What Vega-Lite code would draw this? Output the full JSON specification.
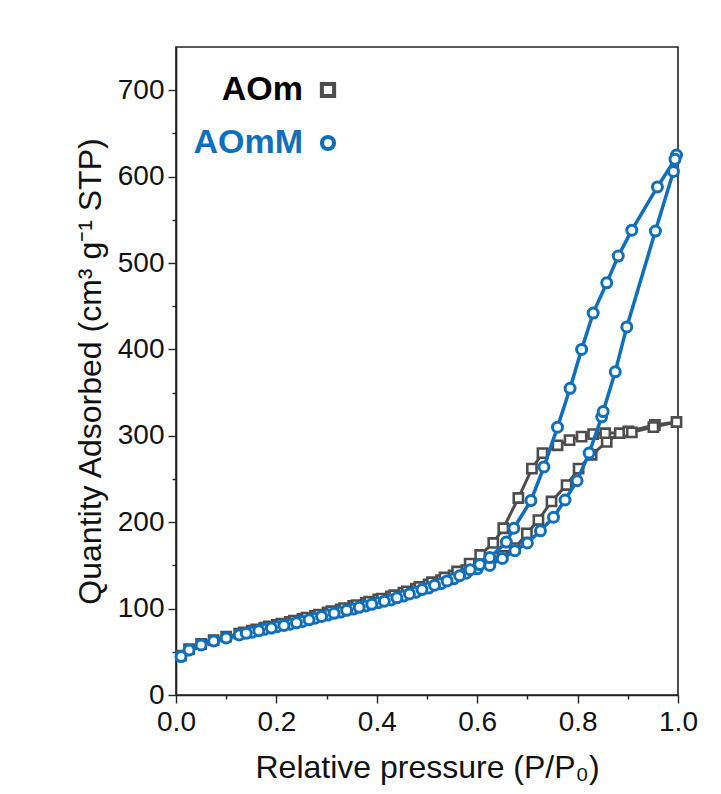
{
  "$schema": "https://vega.github.io/schema/vega-lite/v6.json",
  "width": 502,
  "height": 648,
  "autosize": {"type": "none"},
  "padding": {"left": 176, "top": 47, "right": 43, "bottom": 99},
  "background": "white",
  "config": {
    "font": "Liberation Sans",
    "view": {"stroke": "#222", "strokeWidth": 1.6},
    "axis": {"domainColor": "#222", "domainWidth": 1.6, "tickColor": "#222", "tickWidth": 1.4, "labelFontSize": 28, "labelColor": "#111", "titleFontSize": 32, "titleFontWeight": "normal", "titleColor": "#111", "grid": false}
  },
  "datasets": {
    "iso": [
      {"s": "AOm", "i": 1, "p": 0.010, "q": 45.5},
      {"s": "AOm", "i": 2, "p": 0.026, "q": 53},
      {"s": "AOm", "i": 3, "p": 0.050, "q": 59},
      {"s": "AOm", "i": 4, "p": 0.075, "q": 63.5},
      {"s": "AOm", "i": 5, "p": 0.100, "q": 67.5},
      {"s": "AOm", "i": 6, "p": 0.126, "q": 71},
      {"s": "AOm", "i": 7, "p": 0.151, "q": 74.5},
      {"s": "AOm", "i": 8, "p": 0.176, "q": 78},
      {"s": "AOm", "i": 9, "p": 0.201, "q": 81},
      {"s": "AOm", "i": 10, "p": 0.227, "q": 84.5},
      {"s": "AOm", "i": 11, "p": 0.252, "q": 88},
      {"s": "AOm", "i": 12, "p": 0.277, "q": 91.5},
      {"s": "AOm", "i": 13, "p": 0.302, "q": 95.5},
      {"s": "AOm", "i": 14, "p": 0.328, "q": 99},
      {"s": "AOm", "i": 15, "p": 0.353, "q": 103},
      {"s": "AOm", "i": 16, "p": 0.378, "q": 106.5},
      {"s": "AOm", "i": 17, "p": 0.403, "q": 110.5},
      {"s": "AOm", "i": 18, "p": 0.428, "q": 114},
      {"s": "AOm", "i": 19, "p": 0.453, "q": 118.5},
      {"s": "AOm", "i": 20, "p": 0.478, "q": 123},
      {"s": "AOm", "i": 21, "p": 0.503, "q": 128},
      {"s": "AOm", "i": 22, "p": 0.528, "q": 133},
      {"s": "AOm", "i": 23, "p": 0.553, "q": 138.5},
      {"s": "AOm", "i": 24, "p": 0.578, "q": 144.5},
      {"s": "AOm", "i": 25, "p": 0.600, "q": 149},
      {"s": "AOm", "i": 26, "p": 0.625, "q": 154},
      {"s": "AOm", "i": 27, "p": 0.650, "q": 161},
      {"s": "AOm", "i": 28, "p": 0.675, "q": 170},
      {"s": "AOm", "i": 29, "p": 0.699, "q": 187},
      {"s": "AOm", "i": 30, "p": 0.722, "q": 202.5},
      {"s": "AOm", "i": 31, "p": 0.748, "q": 224},
      {"s": "AOm", "i": 32, "p": 0.778, "q": 243},
      {"s": "AOm", "i": 33, "p": 0.802, "q": 262},
      {"s": "AOm", "i": 34, "p": 0.828, "q": 278},
      {"s": "AOm", "i": 35, "p": 0.858, "q": 293},
      {"s": "AOm", "i": 36, "p": 0.884, "q": 303},
      {"s": "AOm", "i": 37, "p": 0.901, "q": 305},
      {"s": "AOm", "i": 38, "p": 0.954, "q": 312.5},
      {"s": "AOm", "i": 39, "p": 0.997, "q": 316},
      {"s": "AOm", "i": 40, "p": 0.951, "q": 310},
      {"s": "AOm", "i": 41, "p": 0.908, "q": 304},
      {"s": "AOm", "i": 42, "p": 0.855, "q": 303},
      {"s": "AOm", "i": 43, "p": 0.831, "q": 302},
      {"s": "AOm", "i": 44, "p": 0.808, "q": 299},
      {"s": "AOm", "i": 45, "p": 0.784, "q": 295},
      {"s": "AOm", "i": 46, "p": 0.760, "q": 289},
      {"s": "AOm", "i": 47, "p": 0.730, "q": 280},
      {"s": "AOm", "i": 48, "p": 0.709, "q": 262},
      {"s": "AOm", "i": 49, "p": 0.682, "q": 228},
      {"s": "AOm", "i": 50, "p": 0.652, "q": 193},
      {"s": "AOm", "i": 51, "p": 0.632, "q": 176},
      {"s": "AOm", "i": 52, "p": 0.606, "q": 162},
      {"s": "AOm", "i": 53, "p": 0.585, "q": 152},
      {"s": "AOm", "i": 54, "p": 0.560, "q": 143},
      {"s": "AOm", "i": 55, "p": 0.535, "q": 136},
      {"s": "AOm", "i": 56, "p": 0.510, "q": 130.5},
      {"s": "AOm", "i": 57, "p": 0.485, "q": 125},
      {"s": "AOm", "i": 58, "p": 0.460, "q": 120},
      {"s": "AOm", "i": 59, "p": 0.435, "q": 115.5},
      {"s": "AOm", "i": 60, "p": 0.410, "q": 111.5},
      {"s": "AOm", "i": 61, "p": 0.385, "q": 108},
      {"s": "AOm", "i": 62, "p": 0.360, "q": 104},
      {"s": "AOm", "i": 63, "p": 0.335, "q": 100.5},
      {"s": "AOm", "i": 64, "p": 0.310, "q": 97},
      {"s": "AOm", "i": 65, "p": 0.285, "q": 93},
      {"s": "AOm", "i": 66, "p": 0.260, "q": 89.5},
      {"s": "AOm", "i": 67, "p": 0.235, "q": 86},
      {"s": "AOm", "i": 68, "p": 0.210, "q": 82.5},
      {"s": "AOm", "i": 69, "p": 0.185, "q": 79.5},
      {"s": "AOm", "i": 70, "p": 0.160, "q": 76},
      {"s": "AOm", "i": 71, "p": 0.135, "q": 72.5},
      {"s": "AOmM", "i": 1, "p": 0.010, "q": 44.5},
      {"s": "AOmM", "i": 2, "p": 0.026, "q": 52},
      {"s": "AOmM", "i": 3, "p": 0.050, "q": 58},
      {"s": "AOmM", "i": 4, "p": 0.075, "q": 62.5},
      {"s": "AOmM", "i": 5, "p": 0.100, "q": 66},
      {"s": "AOmM", "i": 6, "p": 0.126, "q": 69.5},
      {"s": "AOmM", "i": 7, "p": 0.151, "q": 72.7},
      {"s": "AOmM", "i": 8, "p": 0.176, "q": 76},
      {"s": "AOmM", "i": 9, "p": 0.201, "q": 79},
      {"s": "AOmM", "i": 10, "p": 0.227, "q": 82},
      {"s": "AOmM", "i": 11, "p": 0.252, "q": 85.2},
      {"s": "AOmM", "i": 12, "p": 0.277, "q": 88.8},
      {"s": "AOmM", "i": 13, "p": 0.302, "q": 92.5},
      {"s": "AOmM", "i": 14, "p": 0.328, "q": 96},
      {"s": "AOmM", "i": 15, "p": 0.353, "q": 99.5},
      {"s": "AOmM", "i": 16, "p": 0.378, "q": 103},
      {"s": "AOmM", "i": 17, "p": 0.403, "q": 106.8},
      {"s": "AOmM", "i": 18, "p": 0.428, "q": 110},
      {"s": "AOmM", "i": 19, "p": 0.453, "q": 114.5},
      {"s": "AOmM", "i": 20, "p": 0.478, "q": 119},
      {"s": "AOmM", "i": 21, "p": 0.503, "q": 123.8},
      {"s": "AOmM", "i": 22, "p": 0.528, "q": 129},
      {"s": "AOmM", "i": 23, "p": 0.553, "q": 134.5},
      {"s": "AOmM", "i": 24, "p": 0.578, "q": 141},
      {"s": "AOmM", "i": 25, "p": 0.600, "q": 146},
      {"s": "AOmM", "i": 26, "p": 0.625, "q": 150},
      {"s": "AOmM", "i": 27, "p": 0.650, "q": 158},
      {"s": "AOmM", "i": 28, "p": 0.675, "q": 167},
      {"s": "AOmM", "i": 29, "p": 0.700, "q": 176},
      {"s": "AOmM", "i": 30, "p": 0.726, "q": 190},
      {"s": "AOmM", "i": 31, "p": 0.752, "q": 205.7},
      {"s": "AOmM", "i": 32, "p": 0.775, "q": 225.7},
      {"s": "AOmM", "i": 33, "p": 0.799, "q": 248},
      {"s": "AOmM", "i": 34, "p": 0.823, "q": 280},
      {"s": "AOmM", "i": 35, "p": 0.848, "q": 322},
      {"s": "AOmM", "i": 36, "p": 0.851, "q": 328},
      {"s": "AOmM", "i": 37, "p": 0.875, "q": 374},
      {"s": "AOmM", "i": 38, "p": 0.898, "q": 426},
      {"s": "AOmM", "i": 39, "p": 0.955, "q": 537},
      {"s": "AOmM", "i": 40, "p": 0.991, "q": 606},
      {"s": "AOmM", "i": 41, "p": 0.997, "q": 625},
      {"s": "AOmM", "i": 42, "p": 0.994, "q": 620},
      {"s": "AOmM", "i": 43, "p": 0.959, "q": 588},
      {"s": "AOmM", "i": 44, "p": 0.908, "q": 538},
      {"s": "AOmM", "i": 45, "p": 0.881, "q": 508},
      {"s": "AOmM", "i": 46, "p": 0.858, "q": 477},
      {"s": "AOmM", "i": 47, "p": 0.831, "q": 442},
      {"s": "AOmM", "i": 48, "p": 0.808, "q": 400},
      {"s": "AOmM", "i": 49, "p": 0.785, "q": 355},
      {"s": "AOmM", "i": 50, "p": 0.760, "q": 310},
      {"s": "AOmM", "i": 51, "p": 0.733, "q": 264},
      {"s": "AOmM", "i": 52, "p": 0.707, "q": 225},
      {"s": "AOmM", "i": 53, "p": 0.673, "q": 193},
      {"s": "AOmM", "i": 54, "p": 0.658, "q": 177},
      {"s": "AOmM", "i": 55, "p": 0.625, "q": 159},
      {"s": "AOmM", "i": 56, "p": 0.605, "q": 151},
      {"s": "AOmM", "i": 57, "p": 0.586, "q": 145},
      {"s": "AOmM", "i": 58, "p": 0.565, "q": 138},
      {"s": "AOmM", "i": 59, "p": 0.540, "q": 132},
      {"s": "AOmM", "i": 60, "p": 0.515, "q": 127},
      {"s": "AOmM", "i": 61, "p": 0.490, "q": 122},
      {"s": "AOmM", "i": 62, "p": 0.465, "q": 117},
      {"s": "AOmM", "i": 63, "p": 0.440, "q": 112.5},
      {"s": "AOmM", "i": 64, "p": 0.415, "q": 108.5},
      {"s": "AOmM", "i": 65, "p": 0.390, "q": 105},
      {"s": "AOmM", "i": 66, "p": 0.365, "q": 101.5},
      {"s": "AOmM", "i": 67, "p": 0.340, "q": 98},
      {"s": "AOmM", "i": 68, "p": 0.315, "q": 94.5},
      {"s": "AOmM", "i": 69, "p": 0.290, "q": 91},
      {"s": "AOmM", "i": 70, "p": 0.265, "q": 87},
      {"s": "AOmM", "i": 71, "p": 0.240, "q": 83.5},
      {"s": "AOmM", "i": 72, "p": 0.215, "q": 80.5},
      {"s": "AOmM", "i": 73, "p": 0.190, "q": 77.5},
      {"s": "AOmM", "i": 74, "p": 0.165, "q": 74.5},
      {"s": "AOmM", "i": 75, "p": 0.140, "q": 71.5}
    ]
  },
  "data": {"name": "iso"},
  "encoding": {
    "x": {
      "field": "p", "type": "quantitative",
      "scale": {"domain": [0, 1], "nice": false, "zero": false},
      "axis": {
        "title": "Relative pressure (P/P₀)",
        "values": [0, 0.1, 0.2, 0.3, 0.4, 0.5, 0.6, 0.7, 0.8, 0.9, 1.0],
        "labelExpr": "round(datum.value*10) % 2 == 0 ? format(datum.value, '.1f') : ''",
        "tickSize": {"condition": {"test": "round(datum.value*10) % 2 == 0", "value": 8}, "value": 4},
        "labelPadding": 5,
        "titlePadding": 16,
        "labelFlush": false
      }
    },
    "y": {
      "field": "q", "type": "quantitative",
      "scale": {"domain": [0, 750], "nice": false},
      "axis": {
        "title": "Quantity Adsorbed (cm³ g⁻¹ STP)",
        "values": [0, 50, 100, 150, 200, 250, 300, 350, 400, 450, 500, 550, 600, 650, 700],
        "labelExpr": "round(datum.value) % 100 == 0 ? datum.value : ''",
        "tickSize": {"condition": {"test": "round(datum.value) % 100 == 0", "value": 8}, "value": 4},
        "labelPadding": 4,
        "titlePadding": 10,
        "labelFlush": false
      }
    }
  },
  "layer": [
    {
      "transform": [{"filter": "datum.s == 'AOm'"}],
      "mark": {"type": "line", "strokeWidth": 3},
      "encoding": {
        "order": {"field": "i", "type": "quantitative"},
        "stroke": {"field": "s", "type": "nominal", "scale": {"domain": ["AOm", "AOmM"], "range": ["#4d4d4d", "#0f6fba"]},
          "legend": {
            "title": null, "orient": "none", "legendX": 135, "legendY": 26,
            "labelFontSize": 34, "labelFont": "Liberation Sans", "labelFontWeight": "bold",
            "labelAlign": "right", "labelOffset": -42, "labelBaseline": "middle",
            "symbolSize": 150, "symbolStrokeWidth": 4, "symbolFillColor": "white", "symbolType": "circle",
            "rowPadding": 19, "padding": 0,
            "encode": {
              "labels": {"update": {"fill": {"signal": "datum.value == 'AOm' ? '#000000' : '#0f6fba'"}}},
              "symbols": {"update": {"stroke": {"signal": "datum.value == 'AOm' ? '#000000' : '#0f6fba'"}, "fill": {"value": "white"}, "shape": {"signal": "datum.value == 'AOm' ? 'square' : 'circle'"}}}
            }
          }
        }
      }
    },
    {
      "transform": [{"filter": "datum.s == 'AOm'"}],
      "mark": {"type": "point", "fill": "white", "fillOpacity": 1, "opacity": 1, "strokeWidth": 2.6, "size": 85},
      "encoding": {
        "stroke": {"field": "s", "type": "nominal"},
        "shape": {"field": "s", "type": "nominal", "scale": {"domain": ["AOm", "AOmM"], "range": ["square", "circle"]}, "legend": null}
      }
    },
    {
      "transform": [{"filter": "datum.s == 'AOmM'"}],
      "mark": {"type": "line", "strokeWidth": 3.5},
      "encoding": {
        "order": {"field": "i", "type": "quantitative"},
        "stroke": {"field": "s", "type": "nominal"}
      }
    },
    {
      "transform": [{"filter": "datum.s == 'AOmM'"}],
      "mark": {"type": "point", "fill": "white", "fillOpacity": 1, "opacity": 1, "strokeWidth": 3, "size": 100},
      "encoding": {
        "stroke": {"field": "s", "type": "nominal"},
        "shape": {"field": "s", "type": "nominal", "legend": null}
      }
    }
  ]
}
